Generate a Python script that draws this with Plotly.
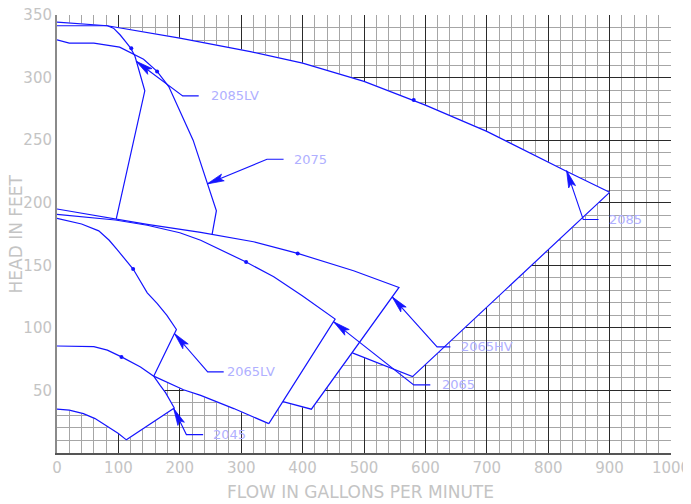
import math
import plotly.graph_objects as go

# ---------------- layout constants ----------------
# the page body adds an 8px offset, so the figure is 8px smaller than the window
W, H = 683, 496
ML, MR, MT, MB = 49, 20, 7, 51
X_RANGE = [0, 1000]
Y_RANGE = [0, 350]

# ---------------- tick labels ----------------
x_tick_vals = list(range(0, 1001, 100))
y_tick_vals = list(range(0, 351, 50))
y_tick_text = [""] + [str(v) for v in range(50, 351, 50)]

# ---------------- curves (flow gpm, head ft) ----------------
# 2085 max curve
c2085_q = [0, 82, 200, 274, 315, 400, 500, 600, 700, 828, 900]
c2085_h = [344.3, 341.4, 331.5, 324.8, 320.8, 311.5, 297, 278, 257, 225.6, 208.3]
# 2085 right edge + bottom
r2085_q = [900, 579, 481]
r2085_h = [208.3, 61, 80]
# 2085LV
c2085lv_q = [0, 82, 92, 103, 113, 120, 127, 136, 143, 96.5]
c2085lv_h = [341.4, 341.4, 339.5, 334, 328, 323.5, 317, 302, 289.4, 187]
# 2075
c2075_q = [0, 20, 60, 102, 141, 163, 182, 221.7, 259.6, 252.6]
c2075_h = [330.2, 327.5, 327.5, 324.3, 314.7, 305, 292.8, 250, 193.6, 174.7]
# 2065HV (top curve, right edge, bottom)
c2065hv_q = [0, 95, 147, 234, 320, 392, 483, 557, 414.3, 368]
c2065hv_h = [195, 187, 182.7, 176.3, 168.8, 159.5, 145.6, 132.3, 35, 41]
# 2065 (top curve, right edge)
c2065_q = [0, 95, 147, 200, 234, 282, 308, 353, 400, 453, 345]
c2065_h = [190.7, 186.2, 182, 176, 170, 158.7, 152.6, 140.8, 125.5, 107, 23.5]
# 2065LV (top curve, right edge)
c2065lv_q = [0, 40, 68, 85, 98, 124, 147, 163, 179, 194.5, 157.5]
c2065lv_h = [187.5, 183, 177.5, 170, 162.5, 147, 128, 119.5, 110, 98.7, 61.4]
# lower curve from 2065LV corner to 2065 corner
c2065min_q = [157.5, 206, 234, 288, 345]
c2065min_h = [61.4, 50.5, 46, 35.5, 23.5]
# 2045 closed outline
c2045_q = [0, 60, 82, 105, 136, 157.5, 168, 177, 191, 113, 100, 87, 62, 43, 20, 0]
c2045_h = [85.5, 85, 82.2, 76.8, 68.8, 61.4, 54, 48, 36, 10.5, 15.5, 19.5, 27.5, 31.5, 34.2, 35]

# small dots on curves
dot_q = [121, 163, 581, 124, 105, 392, 308]
dot_h = [323.5, 304.8, 282, 147, 76.8, 159.5, 152.6]

# labels with leaders
label_text = ["2085LV", "2075", "2085", "2065HV", "2065", "2065LV", "2045"]
tip_q = [129, 244.5, 830, 545.8, 450.6, 191.2, 190]
tip_h = [313, 215, 225.6, 124.8, 104.8, 95.5, 35.5]
bend_q = [204.7, 342, 857, 619, 581, 245.4, 210.7]
bend_h = [285.4, 234.7, 186.6, 84.8, 54.4, 64.8, 14.7]
end_q = [230.8, 369, 882, 640.7, 608, 271.5, 238]
text_q = [248, 383, 896, 655, 624, 274, 250]

BLUE = "#1414ff"
LABEL_BLUE = "#b0b0ff"
GRAY_TXT = "#c4c4c4"
FONT = "DejaVu Sans"

fig = go.Figure()


def add_fill(q, h):
    fig.add_trace(go.Scatter(x=q, y=h, mode="lines", fill="toself",
                             fillcolor="#ffffff", line=dict(width=1, color="#ffffff"),
                             hoverinfo="skip", showlegend=False))


def add_line(q, h, width=1.2):
    fig.add_trace(go.Scatter(x=q, y=h, mode="lines",
                             line=dict(color=BLUE, width=width),
                             hoverinfo="skip", showlegend=False))


# white regions (union of pump coverage areas)
reg_top_q = c2085_q + r2085_q[1:] + c2065hv_q[7::-1]
reg_top_h = c2085_h + r2085_h[1:] + c2065hv_h[7::-1]
add_fill(reg_top_q, reg_top_h)

reg_hv_q = c2065hv_q + c2065_q[9::-1]
reg_hv_h = c2065hv_h + c2065_h[9::-1]
add_fill(reg_hv_q, reg_hv_h)

reg_mid_q = c2065_q + c2065min_q[::-1] + c2045_q[4::-1]
reg_mid_h = c2065_h + c2065min_h[::-1] + c2045_h[4::-1]
add_fill(reg_mid_q, reg_mid_h)

add_fill(c2045_q, c2045_h)

# outlines
for q, h in [(c2085_q, c2085_h), (r2085_q, r2085_h), (c2085lv_q, c2085lv_h),
             (c2075_q, c2075_h), (c2065hv_q, c2065hv_h), (c2065_q, c2065_h),
             (c2065lv_q, c2065lv_h), (c2065min_q, c2065min_h), (c2045_q, c2045_h)]:
    add_line(q, h)

fig.add_trace(go.Scatter(x=dot_q, y=dot_h, mode="markers",
                         marker=dict(color=BLUE, size=4), hoverinfo="skip",
                         showlegend=False))

# leaders, arrowheads, labels
pw = W - ML - MR
ph = H - MT - MB
sx = pw / (X_RANGE[1] - X_RANGE[0])
sy = ph / (Y_RANGE[1] - Y_RANGE[0])
HEAD_L, HEAD_W = 17, 3.6
for i, t in enumerate(label_text):
    add_line([tip_q[i], bend_q[i], end_q[i]], [tip_h[i], bend_h[i], bend_h[i]], width=1.1)
    dx = (tip_q[i] - bend_q[i]) * sx
    dy = (tip_h[i] - bend_h[i]) * sy
    n = math.hypot(dx, dy)
    ux, uy = dx / n, dy / n
    nx, ny = -uy, ux
    pts = [(0, 0), (-HEAD_L * ux + HEAD_W * nx, -HEAD_L * uy + HEAD_W * ny),
           (-0.8 * HEAD_L * ux, -0.8 * HEAD_L * uy),
           (-HEAD_L * ux - HEAD_W * nx, -HEAD_L * uy - HEAD_W * ny), (0, 0)]
    fig.add_trace(go.Scatter(x=[tip_q[i] + p[0] / sx for p in pts],
                             y=[tip_h[i] + p[1] / sy for p in pts],
                             mode="lines", fill="toself", fillcolor=BLUE,
                             line=dict(color=BLUE, width=0.8),
                             hoverinfo="skip", showlegend=False))
    fig.add_annotation(x=text_q[i], y=bend_h[i], text=t, showarrow=False,
                       xanchor="left", yanchor="middle",
                       font=dict(family=FONT, size=13, color=LABEL_BLUE))

# axis titles
fig.add_annotation(xref="paper", yref="paper", x=0.494, y=-0.09,
                   text="FLOW IN GALLONS PER MINUTE", showarrow=False,
                   xanchor="center", yanchor="middle",
                   font=dict(family=FONT, size=17, color=GRAY_TXT))
fig.add_annotation(xref="paper", yref="paper", x=-0.066, y=0.5,
                   text="HEAD IN FEET", showarrow=False, textangle=-90,
                   xanchor="center", yanchor="middle",
                   font=dict(family=FONT, size=17, color=GRAY_TXT))

fig.update_layout(
    width=W, height=H,
    margin=dict(l=ML, r=MR, t=MT, b=MB, autoexpand=False),
    paper_bgcolor="white", plot_bgcolor="white",
    showlegend=False,
    xaxis=dict(range=X_RANGE, tickmode="array", tickvals=x_tick_vals,
               automargin=False, ticklabeloverflow="allow",
               showgrid=True, gridcolor="#2a2a2a", gridwidth=1,
               minor=dict(tickmode="linear", tick0=0, dtick=20, showgrid=True,
                          gridcolor="#a6a6a6", gridwidth=1),
               showline=True, linecolor="#555555", linewidth=1.5,
               zeroline=False, ticks="",
               tickfont=dict(family=FONT, size=15, color=GRAY_TXT)),
    yaxis=dict(range=Y_RANGE, tickmode="array", tickvals=y_tick_vals,
               ticktext=y_tick_text, automargin=False, ticklabeloverflow="allow",
               showgrid=True, gridcolor="#2a2a2a", gridwidth=1,
               minor=dict(tickmode="linear", tick0=0, dtick=10, showgrid=True,
                          gridcolor="#a6a6a6", gridwidth=1),
               showline=True, linecolor="#8a8a8a", linewidth=2,
               zeroline=False, ticks="",
               tickfont=dict(family=FONT, size=15, color=GRAY_TXT)),
)

fig.write_html("out.html")
